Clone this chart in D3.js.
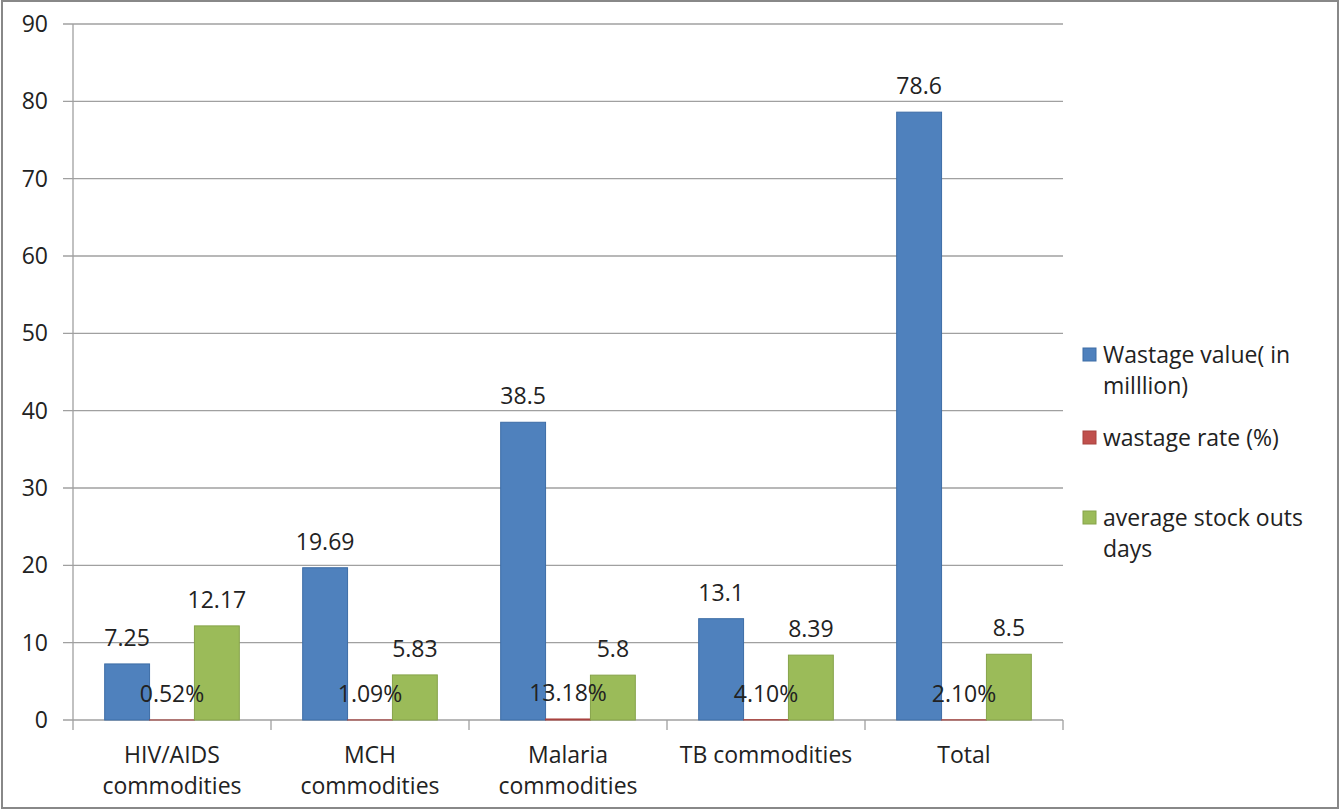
<!DOCTYPE html>
<html>
<head>
<meta charset="utf-8">
<script src="https://cdn.jsdelivr.net/npm/d3@7"></script>
<style>
  html, body { margin: 0; padding: 0; background: #fff; }
  svg { display: block; }
  text { font-family: "Open Sans", "Noto Sans", sans-serif; fill: #222; }
</style>
</head>
<body>
<div id="chart"></div>
<script>
const categories = [["HIV/AIDS", "commodities"], ["MCH", "commodities"], ["Malaria", "commodities"], ["TB commodities"], ["Total"]];
const seriesNames = [["Wastage value( in", "milllion)"], ["wastage rate (%)"], ["average stock outs", "days"]];
const wastageValue = [7.25, 19.69, 38.5, 13.1, 78.6];
const wastageRate = [0.0052, 0.0109, 0.1318, 0.041, 0.021];
const stockOutDays = [12.17, 5.83, 5.8, 8.39, 8.5];
const valueLabels = [
  ["7.25", "19.69", "38.5", "13.1", "78.6"],
  ["0.52%", "1.09%", "13.18%", "4.10%", "2.10%"],
  ["12.17", "5.83", "5.8", "8.39", "8.5"]
];
const yTicks = [0, 10, 20, 30, 40, 50, 60, 70, 80, 90];
const colors = ["#4f81bd", "#c0504d", "#9bbb59"];
const strokes = ["#3d6da6", "#a8423f", "#86a34a"];

const width = 1340, height = 811;
const margin = { left: 73, right: 277, top: 24, bottom: 91 };
const plotW = width - margin.left - margin.right;
const plotH = height - margin.top - margin.bottom;
const fontSize = '23px';

const svg = d3.select('#chart').append('svg')
    .attr('width', width)
    .attr('height', height);

// outer frame
svg.append('rect')
    .attr('x', 2).attr('y', 1)
    .attr('width', width - 4).attr('height', height - 4)
    .attr('fill', 'none')
    .attr('stroke', '#888')
    .attr('stroke-width', 2);

const g = svg.append('g').attr('transform', `translate(${margin.left},${margin.top})`);

const x = d3.scaleBand()
    .domain(d3.range(categories.length))
    .range([0, plotW])
    .paddingInner(0.32)
    .paddingOuter(0.16);

const x0 = d3.scaleBand().domain(d3.range(categories.length)).range([0, plotW]);

const x1 = d3.scaleBand()
    .domain(d3.range(3))
    .range([0, x.bandwidth()]);

const y = d3.scaleLinear().domain([0, 90]).range([plotH, 0]);

// gridlines
g.append('g')
    .selectAll('line')
    .data(yTicks)
    .join('line')
    .attr('x1', -10).attr('x2', plotW)
    .attr('y1', d => y(d)).attr('y2', d => y(d))
    .attr('stroke', '#a0a0a0')
    .attr('stroke-width', 1.3);

// y axis
g.append('line')
    .attr('x1', 0).attr('x2', 0)
    .attr('y1', 0).attr('y2', plotH)
    .attr('stroke', '#a0a0a0')
    .attr('stroke-width', 1.3);

g.append('g')
    .selectAll('text')
    .data(yTicks)
    .join('text')
    .attr('x', -25)
    .attr('y', d => y(d))
    .attr('dy', '0.35em')
    .attr('text-anchor', 'end')
    .style('font-size', fontSize)
    .text(d => d);

// category ticks
g.append('g')
    .selectAll('line')
    .data(d3.range(categories.length + 1))
    .join('line')
    .attr('x1', d => d * x0.step()).attr('x2', d => d * x0.step())
    .attr('y1', plotH).attr('y2', plotH + 10)
    .attr('stroke', '#a0a0a0')
    .attr('stroke-width', 1.3);

const series = [wastageValue, wastageRate, stockOutDays];

series.forEach((vals, s) => {
  g.append('g')
    .selectAll('rect')
    .data(vals)
    .join('rect')
    .attr('x', (d, i) => x(i) + x1(s))
    .attr('y', d => y(d))
    .attr('width', x1.bandwidth())
    .attr('height', d => plotH - y(d))
    .attr('fill', colors[s])
    .attr('stroke', strokes[s])
    .attr('stroke-width', 1);
});

// value labels
series.forEach((vals, s) => {
  g.append('g')
    .selectAll('text')
    .data(vals)
    .join('text')
    .attr('x', (d, i) => x(i) + x1(s) + x1.bandwidth() / 2)
    .attr('y', d => y(d) - 26)
    .attr('dy', '0.35em')
    .attr('text-anchor', 'middle')
    .style('font-size', fontSize)
    .text((d, i) => valueLabels[s][i]);
});

// x labels
g.append('g')
    .selectAll('text')
    .data(categories)
    .join('text')
    .attr('x', (d, i) => x0(i) + x0.bandwidth() / 2)
    .attr('y', plotH + 35)
    .attr('text-anchor', 'middle')
    .style('font-size', fontSize)
    .each(function(d) {
      d3.select(this).selectAll('tspan')
        .data(d)
        .join('tspan')
        .attr('x', d3.select(this).attr('x'))
        .attr('dy', (t, j) => j === 0 ? '0.35em' : '31px')
        .text(t => t);
    });

// legend
const legendY = [355, 438, 518];
const legend = svg.append('g');
seriesNames.forEach((name, s) => {
  legend.append('rect')
    .attr('x', 1083).attr('y', legendY[s] - 7)
    .attr('width', 13).attr('height', 13)
    .attr('fill', colors[s])
    .attr('stroke', strokes[s]);
  const t = legend.append('text')
    .attr('x', 1103).attr('y', legendY[s])
    .style('font-size', fontSize);
  name.forEach((line, j) => {
    t.append('tspan')
      .attr('x', 1103)
      .attr('dy', j === 0 ? '0.35em' : '31px')
      .text(line);
  });
});
</script>
</body>
</html>
